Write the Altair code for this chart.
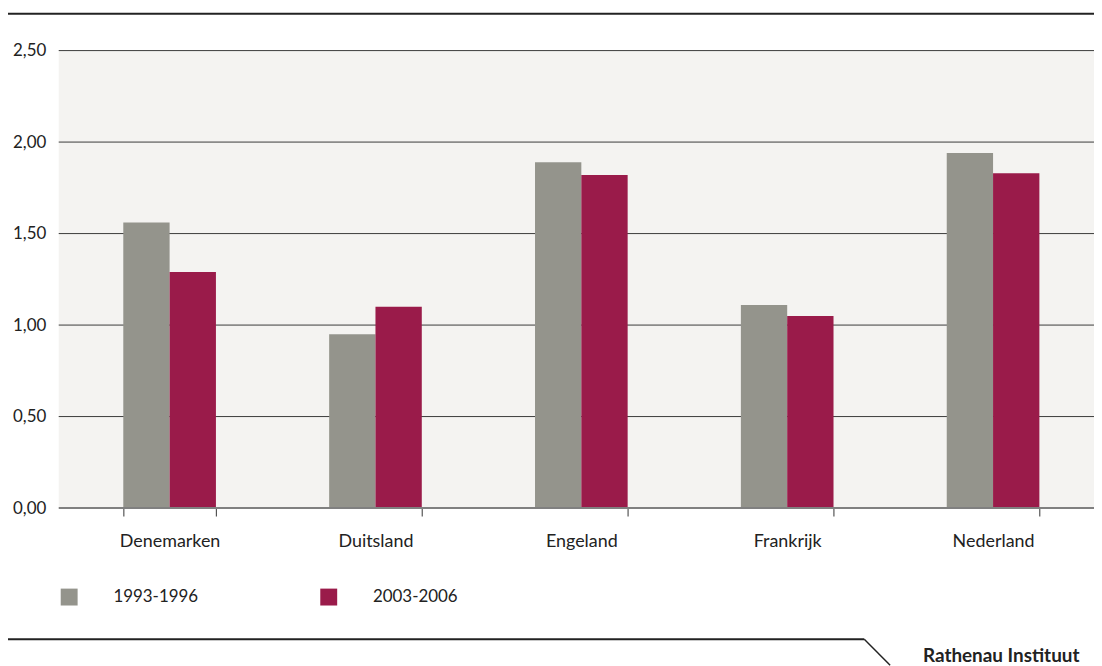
import altair as alt
import pandas as pd

countries = ["Denemarken", "Duitsland", "Engeland", "Frankrijk", "Nederland"]
periods = ["1993-1996", "2003-2006"]
values_1993 = [1.56, 0.95, 1.89, 1.11, 1.94]
values_2003 = [1.29, 1.10, 1.82, 1.05, 1.83]
y_ticks = [0, 0.5, 1.0, 1.5, 2.0, 2.5]
colors = ["#94948c", "#9a1b4a"]
source_label = "Rathenau Instituut"

rows = []
for c, a, b in zip(countries, values_1993, values_2003):
    rows.append({"land": c, "periode": periods[0], "waarde": a})
    rows.append({"land": c, "periode": periods[1], "waarde": b})
df = pd.DataFrame(rows)

FONT = "Lato"
TXT = "#222222"
W = 1041
H = 460

yscale = alt.Scale(domain=[0, 2.5])

grid = alt.Chart(pd.DataFrame({"waarde": y_ticks[1:]})).mark_rule(
    color="#3a3a3a", strokeWidth=1
).encode(
    y=alt.Y("waarde:Q", scale=yscale),
    x=alt.value(0),
    x2=alt.value(W),
)

bars = alt.Chart(df).mark_bar().encode(
    x=alt.X(
        "land:N",
        sort=countries,
        scale=alt.Scale(range=[8, 1043], paddingInner=0.55, paddingOuter=0.275),
        axis=alt.Axis(
            title=None, labelAngle=0, tickBand="extent", ticks=True, tickSize=8,
            tickColor="#333333", tickWidth=1, domain=False,
            labelFontSize=18, labelFont=FONT, labelColor=TXT, labelPadding=17,
            grid=False,
        ),
    ),
    xOffset=alt.XOffset("periode:N", sort=periods),
    y=alt.Y(
        "waarde:Q",
        scale=yscale,
        axis=alt.Axis(
            title=None, values=y_ticks, ticks=False, domain=False,
            labelExpr="replace(format(datum.value, '.2f'), '.', ',')",
            labelFontSize=17, labelFont=FONT, labelColor=TXT, labelPadding=13,
            grid=False,
        ),
    ),
    color=alt.Color(
        "periode:N",
        sort=periods,
        scale=alt.Scale(domain=periods, range=colors),
        legend=alt.Legend(
            title=None, orient="none", legendX=2, legendY=541, direction="horizontal",
            symbolType="square", symbolSize=289, symbolStrokeWidth=0, symbolOpacity=1,
            labelOffset=36, columnPadding=122, labelFontSize=17, labelFont=FONT,
            labelColor=TXT, padding=0,
        ),
    ),
)

baseline = alt.Chart(pd.DataFrame({"waarde": y_ticks[:1]})).mark_rule(
    color="#808080", strokeWidth=2
).encode(
    y=alt.Y("waarde:Q", scale=yscale),
    x=alt.value(0),
    x2=alt.value(W),
)

one = pd.DataFrame({"k": [0]})

top_line = alt.Chart(one).mark_rule(color="#222222", strokeWidth=2).encode(
    x=alt.value(-51), x2=alt.value(1045), y=alt.value(-37)
)
bottom_line = alt.Chart(one).mark_rule(color="#222222", strokeWidth=2).encode(
    x=alt.value(-51), x2=alt.value(810), y=alt.value(592)
)
diag_line = alt.Chart(one).mark_rule(color="#222222", strokeWidth=1.5).encode(
    x=alt.value(810), x2=alt.value(836), y=alt.value(592), y2=alt.value(618)
)
source = alt.Chart(one).mark_text(
    text=source_label, font=FONT, fontSize=19, fontWeight="bold", color=TXT,
    align="left", baseline="alphabetic",
).encode(x=alt.value(869), y=alt.value(615))

chart = alt.layer(grid, bars, baseline, top_line, bottom_line, diag_line, source).properties(
    width=W,
    height=H,
    background="white",
    autosize=alt.AutoSizeParams(type="none"),
    padding={"left": 51, "top": 41, "right": 0, "bottom": 157},
).configure_view(
    fill="#f4f3f1", stroke=None
)

chart.save("out.html", embed_options={"renderer": "svg", "actions": False})
